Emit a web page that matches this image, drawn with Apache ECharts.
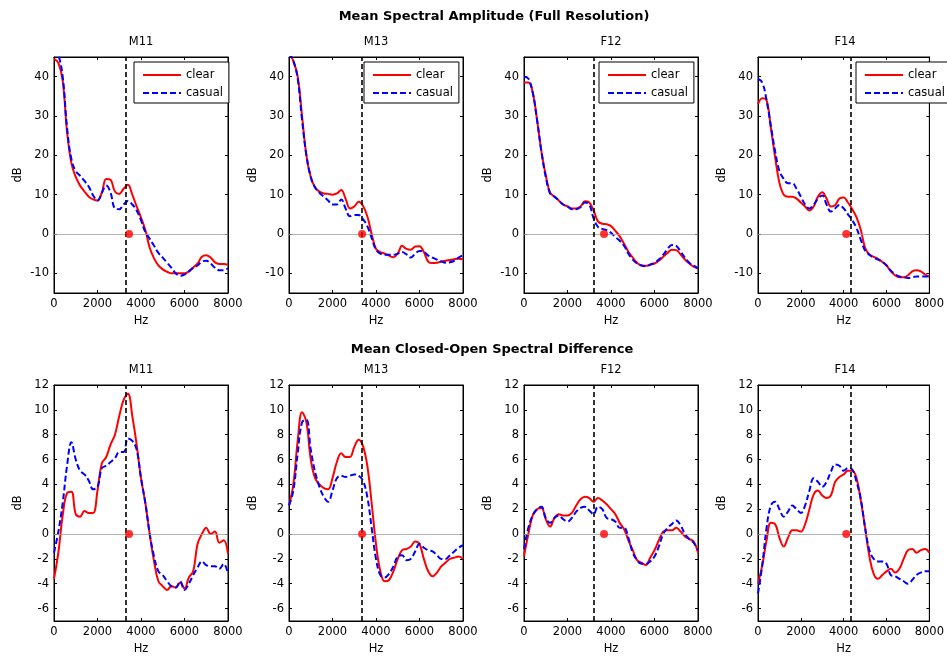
<!DOCTYPE html>
<html><head><meta charset="utf-8">
<script src="https://cdn.jsdelivr.net/npm/echarts@6/dist/echarts.min.js"></script>
<style>html,body{margin:0;padding:0;background:#fff}#c{width:947px;height:656px}</style>
</head><body><div id="c"></div>
<script>
const freqHz = [0,200,400,600,800,1000,1200,1400,1600,1800,2000,2200,2400,2600,2800,3000,3200,3400,3600,3800,4000,4200,4400,4600,4800,5000,5200,5400,5600,5800,6000,6200,6400,6600,6800,7000,7200,7400,7600,7800,8000];
const speakers = ['M11','M13','F12','F14'];

// Top row: mean spectral amplitude (dB)
const ampClearM11  = [44.5,43.5,39,26,18,14.5,12.3,10.8,9.5,8.8,8.5,10.5,14,13.8,10.8,10.2,11.5,12.5,10,7,4.2,1,-3.5,-6.2,-8,-9,-9.6,-10,-10,-10,-10,-9.5,-8.5,-7.5,-5.8,-5.4,-6,-7.2,-7.6,-7.6,-7.8];
const ampCasualM11 = [47,45.5,40,27,19,16,14.8,13.5,12,9.8,8.5,10.5,12.3,10.5,6.5,6.3,7.5,8.4,7.5,6,3.5,0.5,-1.2,-3,-4.8,-6,-7.3,-8.6,-10,-10.6,-10.3,-9.5,-8.6,-8,-7,-6.8,-7.5,-8.6,-9.2,-9.2,-8.7];
const ampClearM13  = [46,44,40,30,20,14.5,11.8,10.8,10.3,10.2,10,10.3,11.2,9,6.5,7,8.2,7.2,4.5,0,-3.8,-4.6,-5,-5.5,-5.9,-5,-3,-3.8,-4,-3.2,-3.1,-4.6,-7,-7.4,-7.3,-7,-6.8,-6.6,-6.4,-6.3,-6.4];
const ampCasualM13 = [46,44,39.5,29,20,14.5,11.8,10.5,9.5,8.5,7.5,7.5,8.8,6.5,4.5,4.8,4.8,3.8,2,-1,-4,-5,-5.3,-5.3,-5.3,-5,-4.6,-5.2,-6,-5,-4.3,-4.5,-5.5,-6,-6.5,-7,-7.3,-7.2,-6.8,-6,-5.4];
const ampClearF12  = [38.5,38.5,36,29,21,15,10.5,9.5,8.5,7.5,7,6.5,6.5,7,8.3,8,6,3.2,2.6,2.5,2,0.8,-0.6,-2.5,-4.5,-6,-7.3,-8,-8.1,-7.8,-7.5,-6.8,-5.8,-4.8,-4,-4.1,-5.2,-6.5,-7.5,-8.3,-8.8];
const ampCasualF12 = [40,39.5,36,29,21,14.5,10.3,9.5,8.5,7.5,7,6.3,6.3,6.8,8,7.5,4,1.8,1.3,1,0.3,-0.8,-1.7,-3,-5,-6.5,-7.5,-8,-8.2,-7.8,-7.3,-6.5,-5.3,-3.8,-2.8,-3,-4.5,-6,-7.3,-8,-8.7];
const ampClearF14  = [33,34.5,34,27,19.5,13,10,9.5,9.5,9,8,7,6,7,9.5,10.6,9,7,7.3,9,9.3,8,6.3,4.2,1,-3.5,-5.2,-5.8,-6.3,-7.1,-8,-9.5,-10.5,-11,-11,-10.5,-9.5,-9.2,-9.5,-10.3,-10.8];
const ampCasualF14 = [39.5,38.5,34,27.5,21,16,14,12.9,12.9,11.5,9.5,7.5,6.5,7.5,9,9.8,7.5,5.7,6.5,7.4,6.5,5,3.5,1.5,-1.5,-4.2,-5.3,-6,-6.5,-7,-8,-9.3,-10.2,-10.8,-11,-11.2,-11,-10.8,-10.8,-10.8,-10.8];

// Bottom row: mean closed-open spectral difference (dB)
const difClearM11  = [-3.6,-1.5,1.5,3.3,3.4,1.6,1.4,1.85,1.7,1.7,3.5,5.7,6.2,7.2,8,9.5,10.8,11.3,9.5,7.2,4.5,2.5,0,-2.2,-3.8,-4.2,-4.5,-4.2,-4.3,-3.9,-4.4,-3.5,-3,-0.8,0,0.5,0,0.2,-0.7,-0.5,-1.6];
const difCasualM11 = [-1.5,0.2,2.5,5.5,7.4,6,5.1,4.8,4.3,3.6,3.8,5.3,5.5,5.8,6.1,6.6,6.6,7.7,7.5,6.8,4.5,2.5,0,-1.8,-3,-3.3,-3.8,-4.2,-4.3,-3.8,-4.5,-4,-3.3,-2.7,-2.2,-2.5,-2.6,-2.6,-2.8,-2.4,-3.2];
const difClearM13  = [2.3,4,7.5,9.8,9,6,4.5,4,3.7,3.6,4.5,5.8,6.5,6.2,6.2,7,7.6,7.1,5.5,2.5,-0.8,-3,-3.8,-3.7,-3,-2,-1.3,-1.2,-1,-0.6,-0.8,-2,-3,-3.4,-3.1,-2.6,-2.3,-2,-1.9,-1.8,-2];
const difCasualM13 = [2.3,3.5,6.5,9,9.2,6.8,5,3.8,3,2.6,3.5,4.5,4.7,4.6,4.7,4.8,4.7,4.3,3,0.5,-2,-3.3,-3.5,-3.2,-2.6,-1.8,-1.7,-2.1,-2,-1.4,-0.8,-1.1,-1.3,-1.4,-1.7,-2,-2,-1.7,-1.4,-1.1,-0.9];
const difClearF12  = [-1.8,0,1.5,2,2.1,1.2,0.6,1.3,1.6,1.5,1.5,1.7,2.3,2.8,3,2.9,2.6,2.9,2.7,2.4,2,1.6,0.9,0.4,-0.5,-1.3,-2.1,-2.3,-2.5,-1.9,-1.3,-0.5,0.2,0.3,0.3,0.5,0.2,-0.2,-0.4,-0.6,-1.5];
const difCasualF12 = [-1.2,0.5,1.5,2,2.2,1.3,0.9,1.3,1.5,1.2,1,1.3,1.8,2.1,2.2,1.9,1.6,2.2,2,1.3,1.2,1,0.5,0.5,-0.3,-1.5,-2.1,-2.4,-2.4,-2.2,-1.8,-1,0,0.5,0.8,1.1,0.7,0,-0.4,-0.7,-1.3];
const difClearF14  = [-4,-2.5,-0.5,0.9,0.8,-0.3,-1,-0.3,0.3,0.3,0.2,0.8,2,3.2,3.5,3.1,2.9,3.1,4.2,4.6,4.8,5.1,5.1,4.5,2.7,0.5,-1.8,-3.2,-3.6,-3.3,-3,-2.8,-3.1,-2.8,-2,-1.3,-1.2,-1.5,-1.3,-1.2,-1.5];
const difCasualF14 = [-4.8,-2.5,0.5,2.3,2.6,2,1.4,1.8,2.3,2,1.7,2.3,3.5,4.5,4.2,3.8,4.2,5,5.6,5.5,5.1,5.3,5.2,4.2,2.8,0.5,-1.3,-2,-2.2,-2.2,-2.4,-3.3,-3.4,-3.6,-3.8,-4,-3.7,-3.3,-3.1,-3,-3];

const splitFreq = [3300,3350,3200,4330];   // vertical dashed line (Hz)
const dotFreq   = [3450,3360,3680,4120];   // red marker on 0 dB (Hz)
const xTicks    = [0,2000,4000,6000,8000];
const ampTicks  = [-10,0,10,20,30,40];
const difTicks  = [-6,-4,-2,0,2,4,6,8,10,12];

const ampClear  = [ampClearM11, ampClearM13, ampClearF12, ampClearF14];
const ampCasual = [ampCasualM11, ampCasualM13, ampCasualF12, ampCasualF14];
const difClear  = [difClearM11, difClearM13, difClearF12, difClearF14];
const difCasual = [difCasualM11, difCasualM13, difCasualF12, difCasualF14];

const FONT = 'DejaVu Sans, Verdana, sans-serif';
const lefts = [54, 289, 524, 758];
const W = 174;
const rows = [
  {top: 57, height: 236, min: -15, max: 45, ticks: ampTicks, clear: ampClear, casual: ampCasual, titleTop: 36},
  {top: 385, height: 238, min: -7, max: 12, ticks: difTicks, clear: difClear, casual: difCasual, titleTop: 364}
];
const legendLefts = [134, 364, 599, 856];

const grid = [], xAxis = [], yAxis = [], series = [], title = [], legend = [];
title.push({text: 'Mean Spectral Amplitude (Full Resolution)', left: 494, top: 10, textAlign: 'center', padding: 0,
  textStyle: {fontSize: 13, fontWeight: 'bold', color: '#000', fontFamily: FONT}});
title.push({text: 'Mean Closed-Open Spectral Difference', left: 492, top: 343, textAlign: 'center', padding: 0,
  textStyle: {fontSize: 13, fontWeight: 'bold', color: '#000', fontFamily: FONT}});

const txt = {color: '#000', fontSize: 11.5, fontFamily: FONT};
rows.forEach((r, ri) => {
  speakers.forEach((sp, i) => {
    const g = ri * 4 + i;
    grid.push({left: lefts[i], top: r.top, width: W, height: r.height, show: true, borderColor: '#000', borderWidth: 1, backgroundColor: '#fff'});
    title.push({text: sp, left: lefts[i] + W / 2, top: r.titleTop, textAlign: 'center', padding: 0,
      textStyle: {fontSize: 11.5, fontWeight: 'normal', color: '#000', fontFamily: FONT}});
    const xb = {gridIndex: g, type: 'value', min: 0, max: 8000, interval: 2000,
      axisLine: {show: true, onZero: false, lineStyle: {color: '#000', width: 1}},
      axisTick: {show: true, inside: true, length: 3, lineStyle: {color: '#000'}},
      splitLine: {show: false}};
    xAxis.push(Object.assign({}, xb, {position: 'bottom',
      axisLabel: {margin: 5, ...txt, formatter: v => String(v)},
      name: 'Hz', nameLocation: 'middle', nameGap: 22, nameTextStyle: txt}));
    xAxis.push(Object.assign({}, xb, {position: 'top', axisLabel: {show: false}}));
    const yb = {gridIndex: g, type: 'value', min: r.min, max: r.max,
      axisLine: {show: true, onZero: false, lineStyle: {color: '#000', width: 1}},
      axisTick: {show: true, inside: true, length: 3, lineStyle: {color: '#000'}, customValues: r.ticks},
      splitLine: {show: false}};
    yAxis.push(Object.assign({}, yb, {position: 'left',
      axisLabel: {margin: 5, ...txt, customValues: r.ticks},
      name: 'dB', nameLocation: 'middle', nameGap: 30, nameTextStyle: txt}));
    yAxis.push(Object.assign({}, yb, {position: 'right', axisLabel: {show: false}}));

    const xi = 2 * g, yi = 2 * g;
    series.push({name: 'clear', type: 'line', xAxisIndex: xi, yAxisIndex: yi, symbol: 'none', smooth: 0.4, clip: true,
      lineStyle: {color: '#ff0000', width: 2}, itemStyle: {color: '#ff0000'},
      data: freqHz.map((f, k) => [f, r.clear[i][k]]), z: 3});
    series.push({name: 'casual', type: 'line', xAxisIndex: xi, yAxisIndex: yi, symbol: 'none', smooth: 0.4, clip: true,
      lineStyle: {color: '#0000ff', width: 2, type: [6, 3]}, itemStyle: {color: '#0000ff'},
      data: freqHz.map((f, k) => [f, r.casual[i][k]]), z: 4});
    series.push({name: 'marker', type: 'scatter', xAxisIndex: xi, yAxisIndex: yi, symbol: 'circle', symbolSize: 8,
      itemStyle: {color: '#ff0000'}, data: [[dotFreq[i], 0]], z: 6, silent: true,
      markLine: {silent: true, symbol: 'none', label: {show: false}, animation: false,
        data: [
          {yAxis: 0, lineStyle: {color: '#a0a0a0', width: 0.8, type: 'solid'}},
          {xAxis: splitFreq[i], lineStyle: {color: '#000', width: 1.6, type: [5, 3]}}
        ]}});
  });
});

speakers.forEach((sp, i) => {
  legend.push({data: ['clear', 'casual'], orient: 'vertical', left: legendLefts[i], top: 62,
    itemWidth: 38, itemHeight: 13, itemGap: 6, padding: [7, 6, 4, 8],
    itemStyle: {opacity: 0},
    borderColor: '#000', borderWidth: 1, borderRadius: 0, backgroundColor: '#fff',
    selectedMode: false, textStyle: txt, z: 10});
});

const chart = echarts.init(document.getElementById('c'), null, {renderer: 'canvas'});
chart.setOption({animation: false, backgroundColor: '#fff', title, legend, grid, xAxis, yAxis, series});
</script></body></html>
